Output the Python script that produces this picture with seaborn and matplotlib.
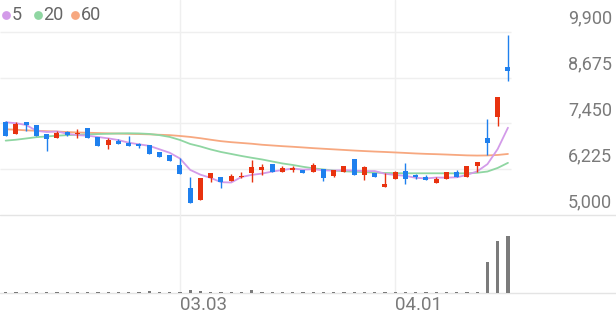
import numpy as np
import pandas as pd
import matplotlib
matplotlib.use("Agg")
import matplotlib.pyplot as plt
import seaborn as sns

# ---------------- data ----------------
tick_idx = [17, 38]
tick_labels = ["03.03", "04.01"]
price_ticks = [5000, 6225, 7450, 8675, 9900]

opens = [7496, 7159, 7480, 7416, 7159, 7052, 7220, 7159, 7335, 7078,
         6864, 6988, 6935, 6900, 6880, 6693, 6605, 6329, 5730, 5401,
         5998, 6016, 5918, 6008, 6131, 6196, 6364, 6142, 6204, 6204,
         6150, 6222, 6052, 6142, 6506, 6079, 6115, 5757, 5960, 6177,
         6062, 6025, 5848, 5955, 6158, 6025, 6311, 7052, 7630, 8950]
highs = [7510, 7480, 7490, 7416, 7159, 7255, 7255, 7292, 7335, 7078,
         7052, 7041, 7121, 6918, 6880, 6693, 6605, 6517, 6025, 5998,
         6114, 6016, 6089, 6150, 6471, 6356, 6364, 6320, 6320, 6204,
         6383, 6222, 6204, 6319, 6506, 6320, 6115, 6115, 6169, 6383,
         6105, 6070, 6025, 6142, 6204, 6320, 6410, 7560, 8165, 9815]
lows = [7100, 7159, 7247, 7121, 6720, 7052, 7113, 7052, 7052, 6846,
        6766, 6907, 6855, 6784, 6640, 6543, 6445, 6089, 5313, 5401,
        5891, 5713, 5918, 5982, 5882, 6070, 6142, 6142, 6150, 6132,
        6150, 5918, 6008, 6142, 6070, 5936, 6008, 5757, 5954, 5829,
        5971, 5928, 5848, 5955, 6008, 6025, 6158, 6605, 7380, 8585]
closes = [7113, 7434, 7400, 7121, 7025, 7185, 7140, 7202, 7052, 6846,
          7006, 6907, 6855, 6838, 6640, 6543, 6445, 6089, 5313, 5998,
          6114, 5874, 6043, 6051, 6276, 6293, 6142, 6249, 6249, 6132,
          6346, 5998, 6204, 6319, 6070, 6276, 6008, 5837, 6160, 5955,
          6008, 5928, 5955, 6142, 6008, 6320, 6410, 6918, 8165, 8852]

ma5 = [7480, 7453, 7407, 7250, 7219, 7233, 7174, 7135, 7121, 7085,
       7049, 7003, 6933, 6890, 6849, 6757, 6664, 6511, 6206, 6078,
       5992, 5878, 5868, 6016, 6072, 6107, 6161, 6202, 6242, 6213,
       6224, 6195, 6186, 6200, 6187, 6173, 6175, 6102, 6070, 6047,
       5994, 5978, 6001, 5998, 6008, 6071, 6167, 6360, 6764, 7333]
ma20 = [6988, 7012, 7046, 7081, 7100, 7119, 7135, 7145, 7156, 7164,
        7172, 7180, 7185, 7180, 7167, 7135, 7087, 7006, 6899, 6832,
        6752, 6685, 6632, 6578, 6530, 6485, 6431, 6378, 6338, 6289,
        6249, 6217, 6190, 6169, 6156, 6145, 6134, 6124, 6118, 6115,
        6115, 6115, 6115, 6115, 6113, 6115, 6129, 6162, 6258, 6394]
ma60 = [7292, 7279, 7263, 7252, 7242, 7231, 7218, 7207, 7199, 7191,
        7183, 7177, 7169, 7164, 7156, 7145, 7135, 7113, 7087, 7052,
        7012, 6974, 6947, 6926, 6905, 6878, 6859, 6840, 6824, 6806,
        6787, 6771, 6755, 6739, 6723, 6709, 6696, 6685, 6672, 6659,
        6645, 6634, 6626, 6616, 6605, 6594, 6589, 6592, 6605, 6632]

# volume in thousand shares
volume = [130, 120, 120, 120, 120, 100, 80, 80, 80, 100,
          120, 80, 120, 100, 180, 130, 130, 150, 280, 180,
          100, 80, 80, 80, 350, 100, 80, 80, 80, 80,
          80, 80, 80, 80, 80, 80, 80, 80, 100, 80,
          80, 80, 80, 80, 80, 80, 100, 3100, 5200, 5700]

# ---------------- style ----------------
sns.set_theme(style="white")
plt.rcParams["font.family"] = ["Roboto", "DejaVu Sans"]

RED = "#e8320f"
BLUE = "#1f80ee"
C5 = "#d39be9"
C20 = "#8fd6a2"
C60 = "#f7a880"
GRID = "#efefef"
TXT = "#7a7a7a"

W, H = 616, 321
fig = plt.figure(figsize=(W / 100, H / 100), dpi=100)
fig.patch.set_facecolor("white")

step = 10.25
x0 = -5.7 / step
def px2x(p):
    return x0 + p / step
xlim = (px2x(0), px2x(W))

# price panel: pixel rows 0..215
ax = fig.add_axes([0, (H - 215) / H, 1, 215 / H])
# volume panel: pixel rows 215..293
vax = fig.add_axes([0, (H - 293) / H, 1, 78 / H])

idx = np.arange(len(closes))
df = pd.DataFrame({"i": idx, "open": opens, "high": highs, "low": lows,
                   "close": closes, "ma5": ma5, "ma20": ma20, "ma60": ma60,
                   "volume": volume})

# gridlines
ax.hlines(price_ticks[1:], px2x(0), px2x(511), color=GRID, lw=1.0, zorder=0)
ax.axhline(5000, color="#e4e4e4", lw=1.0, clip_on=False, zorder=0)
for t in tick_idx:
    ax.axvline(t, color=GRID, lw=1.0, zorder=0)
    vax.axvline(t, color=GRID, lw=1.0, zorder=0)

# moving averages
sns.lineplot(data=df, x="i", y="ma60", ax=ax, color=C60, lw=1.3, zorder=2)
sns.lineplot(data=df, x="i", y="ma20", ax=ax, color=C20, lw=1.3, zorder=2)
sns.lineplot(data=df, x="i", y="ma5", ax=ax, color=C5, lw=1.3, zorder=2)

# candles
up = df["close"] >= df["open"]
colors = np.where(up, RED, BLUE)
bottom = np.minimum(df["open"], df["close"])
height = np.maximum(np.abs(df["close"] - df["open"]), 35)
ax.vlines(df["i"], df["low"], df["high"], colors=colors, lw=1.0, zorder=3)
ax.bar(df["i"], height, bottom=bottom, width=0.48, color=colors,
       linewidth=0, zorder=4)

ax.set_xlim(*xlim)
ax.set_ylim(5000, 5000 + 215 * (4900 / 183.3))
ax.axis("off")

# right-side price labels
for v in price_ticks:
    ax.annotate(f"{v:,}", xy=(612 / W, v), xycoords=("figure fraction", "data"),
                xytext=(0, 8), textcoords="offset pixels", ha="right",
                va="baseline", fontsize=13, color=TXT, annotation_clip=False)

# volume
sns.barplot(data=df, x="i", y="volume", ax=vax, native_scale=True,
            color="#7b7b7b", saturation=1, width=0.32, linewidth=0, zorder=3)
vax.axhline(0, color="#e4e4e4", lw=1.0, clip_on=False, zorder=1)
vax.set_xlim(*xlim)
vax.set_ylim(0, 7800)
vax.axis("off")

for t, lab in zip(tick_idx, tick_labels):
    vax.annotate(lab, xy=(t, 0), xycoords="data", xytext=(0, -12),
                 textcoords="offset pixels", ha="left", va="center",
                 fontsize=13.5, color=TXT, annotation_clip=False)

# legend (pixel-space overlay)
lax = fig.add_axes([0, 0, 1, 1], facecolor="none")
lax.set_xlim(0, W)
lax.set_ylim(H, 0)
lax.axis("off")
for cx, col, lab, tx in [(5.5, C5, "5", 12), (37.5, C20, "20", 43.5), (74.5, C60, "60", 80.5)]:
    lax.scatter([cx], [15], s=40, color=col, linewidths=0)
    lax.text(tx, 15.5, lab, fontsize=13, color="#666666", ha="left", va="center")

fig.savefig("out.png", dpi=100)
